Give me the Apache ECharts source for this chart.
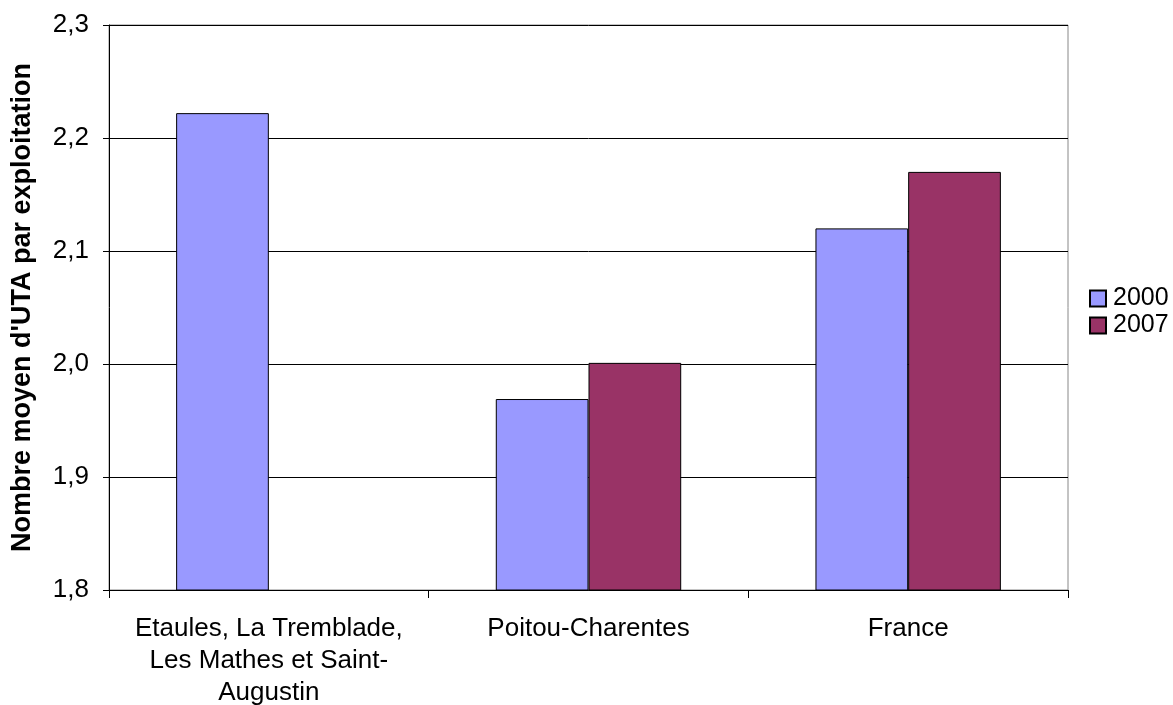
<!DOCTYPE html>
<html>
<head>
<meta charset="utf-8">
<script src="https://cdn.jsdelivr.net/npm/echarts@6/dist/echarts.min.js"></script>
<style>
  html, body { margin: 0; padding: 0; background: #fff; }
  #chart { width: 1173px; height: 705px; }
</style>
</head>
<body>
<div id="chart"></div>
<script>
// Number of annual work units (UTA) per farm
const categories = [
  'Etaules, La Tremblade,\nLes Mathes et Saint-\nAugustin',
  'Poitou-Charentes',
  'France'
];
const seriesNames = ['2000', '2007'];
const values2000 = [2.222, 1.969, 2.12];
const values2007 = [null, 2.001, 2.17];
const yTicks = { min: 1.8, max: 2.3, interval: 0.1 };
const yTitle = "Nombre moyen d'UTA par exploitation";

const font = 'Arial, "Liberation Sans", sans-serif';
const chart = echarts.init(document.getElementById('chart'), null, { renderer: 'canvas' });

chart.setOption({
  backgroundColor: '#ffffff',
  animation: false,
  grid: {
    left: 109, right: 105, top: 25, bottom: 115,
    outerBoundsMode: 'none',
    containLabel: false,
    show: true, borderColor: '#888888', borderWidth: 1
  },
  legend: {
    orient: 'vertical',
    left: 1089, top: 286,
    padding: 0,
    itemWidth: 16, itemHeight: 16, itemGap: 2,
    icon: 'rect',
    data: seriesNames,
    textStyle: { fontFamily: font, fontSize: 25, color: '#000', padding: [0, 0, 0, 2] }
  },
  xAxis: {
    type: 'category',
    data: categories,
    axisLine: { lineStyle: { color: '#000', width: 1 } },
    axisTick: { show: true, length: 8, alignWithLabel: false, lineStyle: { color: '#000' } },
    axisLabel: {
      interval: 0, margin: 23, fontFamily: font, fontSize: 26, color: '#000',
      lineHeight: 32, align: 'center'
    }
  },
  yAxis: {
    type: 'value',
    min: yTicks.min, max: yTicks.max, interval: yTicks.interval,
    name: yTitle,
    nameLocation: 'middle',
    nameGap: 73,
    nameRotate: 90,
    nameTextStyle: { fontFamily: font, fontSize: 27, fontWeight: 'bold', color: '#000' },
    axisLine: { show: true, lineStyle: { color: '#000', width: 1 } },
    axisTick: { show: true, length: 6, lineStyle: { color: '#000' } },
    axisLabel: {
      margin: 20, fontFamily: font, fontSize: 26, color: '#000',
      formatter: v => v.toFixed(1).replace('.', ',')
    },
    splitLine: { show: true, lineStyle: { color: '#000', width: 1 } }
  },
  series: [
    {
      name: seriesNames[0], type: 'bar', data: values2000,
      barCategoryGap: '42%', barGap: '0%',
      itemStyle: { color: '#9999ff', borderColor: '#000', borderWidth: 1 }
    },
    {
      name: seriesNames[1], type: 'bar', data: values2007,
      barCategoryGap: '42%', barGap: '0%',
      itemStyle: { color: '#993366', borderColor: '#000', borderWidth: 1 }
    }
  ]
});
</script>
</body>
</html>
